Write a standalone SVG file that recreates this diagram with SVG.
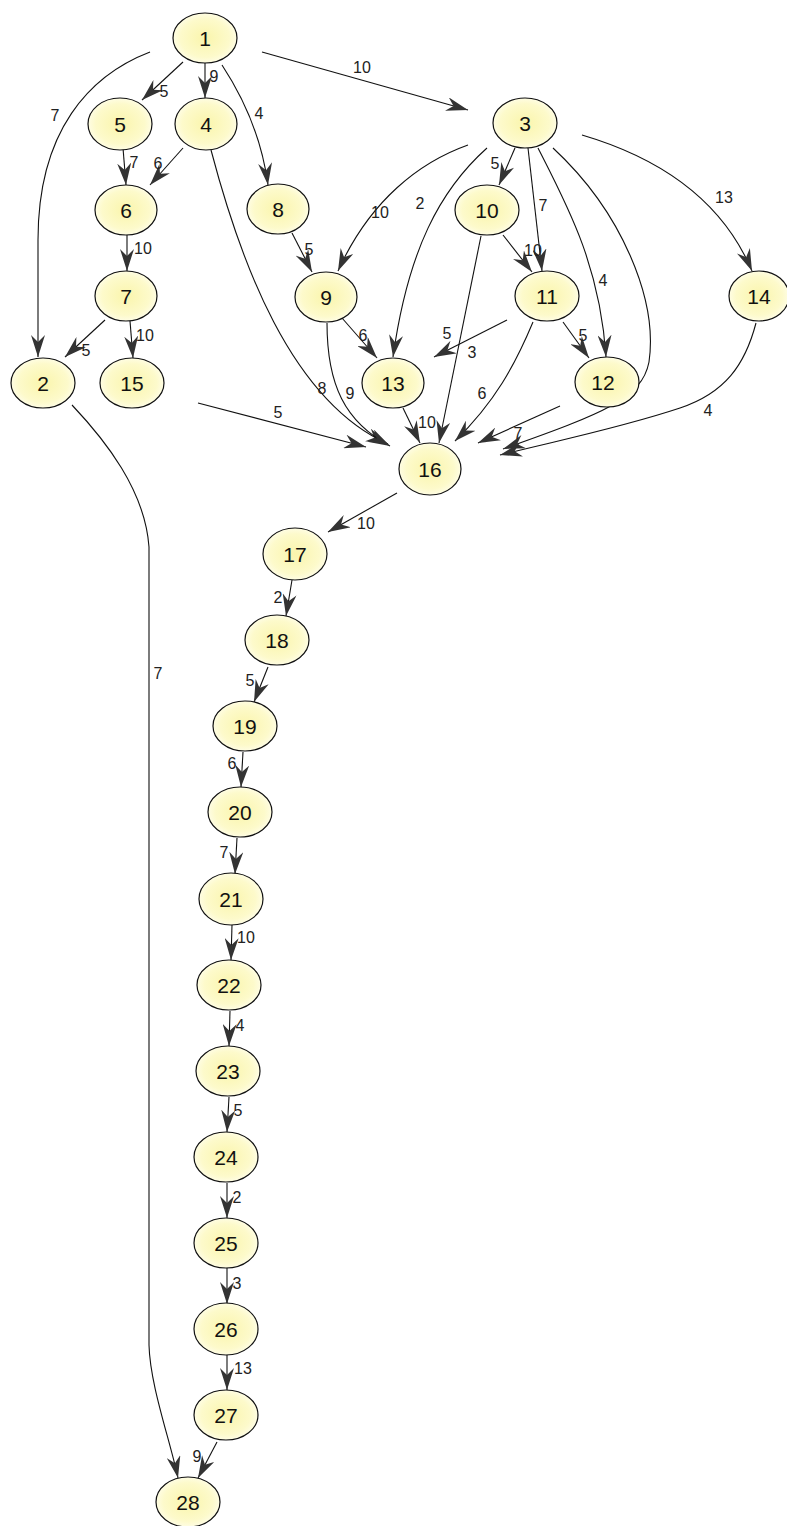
<svg xmlns="http://www.w3.org/2000/svg" width="787" height="1526" viewBox="0 0 787 1526">
<style>
.node ellipse{fill:url(#ng);stroke:#111;stroke-width:1.2}
.node text{font-family:"Liberation Sans",Arial,sans-serif;font-size:21px;fill:#111;text-anchor:middle}
.edges path{fill:none;stroke:#111;stroke-width:1.1;marker-end:url(#ah)}
.lbl text{font-family:"Liberation Sans",Arial,sans-serif;font-size:16px;fill:#222;text-anchor:middle}
</style>
<defs>
<radialGradient id="ng" cx="50%" cy="50%" r="55%">
<stop offset="0" stop-color="#faf5ac"/>
<stop offset="0.7" stop-color="#fdfacb"/>
<stop offset="1" stop-color="#fffeee"/>
</radialGradient>
<marker id="ah" viewBox="0 0 22 14" refX="22" refY="7" markerWidth="22" markerHeight="14" markerUnits="userSpaceOnUse" orient="auto">
<path d="M0,0 L22,7 L0,14 L7,7 z" fill="#333333"/>
</marker>
</defs>
<rect width="787" height="1526" fill="#ffffff"/>
<g id="connectors" class="edges">
<path id="e1-2" d="M150,52 C90,75 38,130 38,240 L38,357"/>
<path id="e1-5" d="M183,62 L142,100"/>
<path id="e1-4" d="M205,63 L205,98"/>
<path id="e1-8" d="M222,65 C245,100 262,140 268,185"/>
<path id="e1-3" d="M262,52 L468,110"/>
<path id="e5-6" d="M123,148 L126,185"/>
<path id="e4-6" d="M183,148 L150,185"/>
<path id="e4-16" d="M211,150 C240,260 290,400 388,444"/>
<path id="e6-7" d="M127,235 L127,271"/>
<path id="e7-2" d="M105,320 L65,357"/>
<path id="e7-15" d="M130,321 L133,358"/>
<path id="e2-28" d="M72,405 C105,440 145,490 149,547 L149,1345 C150,1385 170,1440 178,1478"/>
<path id="e15-16" d="M198,403 L366,447"/>
<path id="e8-9" d="M292,233 L312,272"/>
<path id="e3-9" d="M468,145 C420,162 370,200 338,271"/>
<path id="e3-13" d="M487,148 C440,190 408,250 393,357"/>
<path id="e3-10" d="M515,148 L499,185"/>
<path id="e3-11" d="M528,148 L542,271"/>
<path id="e3-12" d="M538,148 C567,205 600,265 606,357"/>
<path id="e3-16" d="M553,148 C622,212 658,300 649,362 C642,398 605,413 503,449"/>
<path id="e3-14" d="M582,135 C660,158 722,200 752,271"/>
<path id="e10-11" d="M503,235 L532,272"/>
<path id="e10-16" d="M481,236 L439,443"/>
<path id="e11-13" d="M507,320 L434,357"/>
<path id="e11-12" d="M563,322 L589,358"/>
<path id="e11-16" d="M533,322 C515,365 495,402 455,441"/>
<path id="e9-13" d="M342,318 L377,358"/>
<path id="e9-16" d="M327,323 C327,385 345,422 390,446"/>
<path id="e13-16" d="M403,408 L420,443"/>
<path id="e12-16" d="M560,406 L478,443"/>
<path id="e14-16" d="M756,323 C745,365 725,393 680,408 C620,428 560,440 500,455"/>
<path id="e16-17" d="M397,493 L328,532"/>
<path id="e17-18" d="M292,580 L286,616"/>
<path id="e18-19" d="M268,667 L254,702"/>
<path id="e19-20" d="M243,752 L241,787"/>
<path id="e20-21" d="M237,838 L235,874"/>
<path id="e21-22" d="M232,925 L231,960"/>
<path id="e22-23" d="M230,1011 L229,1046"/>
<path id="e23-24" d="M229,1097 L227,1132"/>
<path id="e24-25" d="M227,1183 L227,1218"/>
<path id="e25-26" d="M227,1268 L227,1304"/>
<path id="e26-27" d="M227,1355 L227,1390"/>
<path id="e27-28" d="M217,1442 L198,1478"/>
</g>
<g id="labels" class="lbl">
<text x="55" y="121">7</text>
<text x="164" y="97">5</text>
<text x="214" y="82">9</text>
<text x="259" y="119">4</text>
<text x="362" y="73">10</text>
<text x="134" y="168">7</text>
<text x="158" y="169">6</text>
<text x="143" y="254">10</text>
<text x="86" y="356">5</text>
<text x="145" y="341">10</text>
<text x="158" y="679">7</text>
<text x="278" y="418">5</text>
<text x="322" y="394">8</text>
<text x="350" y="399">9</text>
<text x="309" y="255">5</text>
<text x="380" y="218">10</text>
<text x="420" y="209">2</text>
<text x="495" y="169">5</text>
<text x="543" y="211">7</text>
<text x="603" y="286">4</text>
<text x="724" y="203">13</text>
<text x="533" y="256">10</text>
<text x="447" y="339">5</text>
<text x="472" y="358">3</text>
<text x="583" y="341">5</text>
<text x="482" y="399">6</text>
<text x="363" y="341">6</text>
<text x="427" y="428">10</text>
<text x="518" y="439">7</text>
<text x="627" y="396">7</text>
<text x="708" y="416">4</text>
<text x="366" y="529">10</text>
<text x="278" y="603">2</text>
<text x="250" y="686">5</text>
<text x="232" y="769">6</text>
<text x="224" y="858">7</text>
<text x="246" y="943">10</text>
<text x="240" y="1031">4</text>
<text x="238" y="1116">5</text>
<text x="237" y="1203">2</text>
<text x="237" y="1289">3</text>
<text x="243" y="1374">13</text>
<text x="197" y="1462">9</text>
</g>
<g id="n1" class="node"><ellipse cx="205" cy="38" rx="32" ry="25"/><text x="205" y="46">1</text></g>
<g id="n2" class="node"><ellipse cx="43" cy="383" rx="32" ry="25"/><text x="43" y="391">2</text></g>
<g id="n3" class="node"><ellipse cx="525" cy="123" rx="32" ry="25"/><text x="525" y="131">3</text></g>
<g id="n4" class="node"><ellipse cx="206" cy="124" rx="31" ry="26"/><text x="206" y="132">4</text></g>
<g id="n5" class="node"><ellipse cx="120" cy="124" rx="32" ry="26"/><text x="120" y="132">5</text></g>
<g id="n6" class="node"><ellipse cx="126" cy="210" rx="31" ry="25"/><text x="126" y="218">6</text></g>
<g id="n7" class="node"><ellipse cx="126" cy="296" rx="31" ry="25"/><text x="126" y="304">7</text></g>
<g id="n8" class="node"><ellipse cx="278" cy="209" rx="31" ry="25"/><text x="278" y="217">8</text></g>
<g id="n9" class="node"><ellipse cx="326" cy="297" rx="31" ry="25"/><text x="326" y="305">9</text></g>
<g id="n10" class="node"><ellipse cx="487" cy="210" rx="32" ry="25"/><text x="487" y="218">10</text></g>
<g id="n11" class="node"><ellipse cx="547" cy="296" rx="32" ry="25"/><text x="547" y="304">11</text></g>
<g id="n12" class="node"><ellipse cx="607" cy="382" rx="32" ry="25"/><text x="603" y="390">12</text></g>
<g id="n13" class="node"><ellipse cx="393" cy="383" rx="31" ry="25"/><text x="393" y="391">13</text></g>
<g id="n14" class="node"><ellipse cx="759" cy="296" rx="30" ry="25"/><text x="759" y="304">14</text></g>
<g id="n15" class="node"><ellipse cx="132" cy="383" rx="32" ry="25"/><text x="132" y="391">15</text></g>
<g id="n16" class="node"><ellipse cx="430" cy="469" rx="31" ry="26"/><text x="430" y="477">16</text></g>
<g id="n17" class="node"><ellipse cx="295" cy="554" rx="32" ry="26"/><text x="295" y="562">17</text></g>
<g id="n18" class="node"><ellipse cx="277" cy="640" rx="32" ry="25"/><text x="277" y="648">18</text></g>
<g id="n19" class="node"><ellipse cx="245" cy="726" rx="32" ry="25"/><text x="245" y="734">19</text></g>
<g id="n20" class="node"><ellipse cx="240" cy="812" rx="32" ry="25"/><text x="240" y="820">20</text></g>
<g id="n21" class="node"><ellipse cx="231" cy="899" rx="32" ry="26"/><text x="231" y="907">21</text></g>
<g id="n22" class="node"><ellipse cx="229" cy="985" rx="32" ry="25"/><text x="229" y="993">22</text></g>
<g id="n23" class="node"><ellipse cx="228" cy="1071" rx="32" ry="25"/><text x="228" y="1079">23</text></g>
<g id="n24" class="node"><ellipse cx="226" cy="1157" rx="32" ry="25"/><text x="226" y="1165">24</text></g>
<g id="n25" class="node"><ellipse cx="226" cy="1243" rx="32" ry="25"/><text x="226" y="1251">25</text></g>
<g id="n26" class="node"><ellipse cx="226" cy="1329" rx="32" ry="26"/><text x="226" y="1337">26</text></g>
<g id="n27" class="node"><ellipse cx="226" cy="1415" rx="32" ry="25"/><text x="226" y="1423">27</text></g>
<g id="n28" class="node"><ellipse cx="188" cy="1502" rx="32" ry="25"/><text x="188" y="1510">28</text></g>
</svg>
